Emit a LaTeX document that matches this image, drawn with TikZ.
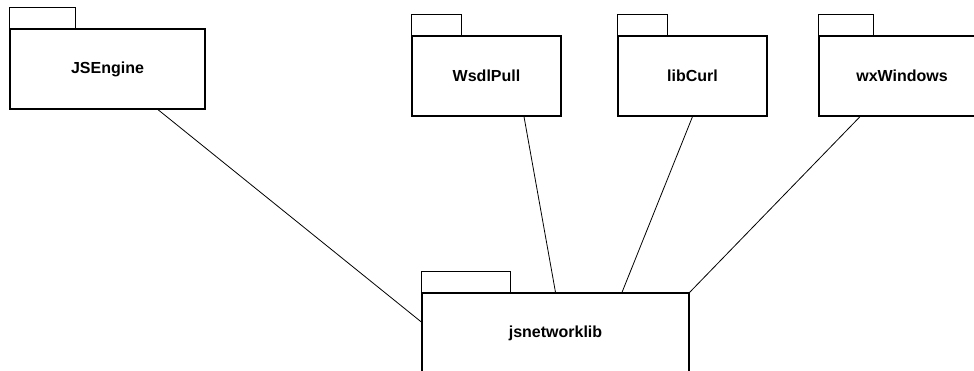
\documentclass[tikz,border=0pt]{standalone}
\usepackage{fontspec}
\setsansfont{Liberation Sans}
\usetikzlibrary{calc}

\begin{document}
\begin{tikzpicture}[x=1pt, y=-1pt,
			pkg/.style = {draw, line width=1.3pt, rectangle, minimum height=80pt,
			              inner sep=0pt, font=\sffamily\bfseries\fontsize{16}{19}\selectfont},
			tab/.style = {draw, line width=1.3pt},
			link/.style = {draw, line width=0.8pt}]

			\useasboundingbox (0, 0) rectangle (974, 371);

			% packages
			\node [pkg, minimum width=195pt] (jse) at (107.5, 69) {JSEngine};
			\node [pkg, minimum width=149pt] (wsdl) at (486.5, 76) {WsdlPull};
			\node [pkg, minimum width=149pt] (curl) at (692.5, 76) {libCurl};
			\node [pkg, minimum width=166pt] (wx) at (902, 76) {wxWindows};
			\node [pkg, minimum width=267pt] (net) at (555.5, 333) {jsnetworklib};

			% package tabs
			\foreach \name/\w in {jse/66, wsdl/50, curl/50, wx/55, net/89}
				\draw [tab] (\name.north west) rectangle ++(\w, -21);

			% dependencies
			\draw [link] ([xshift=50.5pt]jse.south) -- ([yshift=11pt]net.west);
			\draw [link] ([xshift=37.5pt]wsdl.south) -- (net.north);
			\draw [link] (curl.south) -- ([xshift=66.5pt]net.north);
			\draw [link] ([xshift=-42pt]wx.south) -- (net.north east);
		\end{tikzpicture}
\end{document}
